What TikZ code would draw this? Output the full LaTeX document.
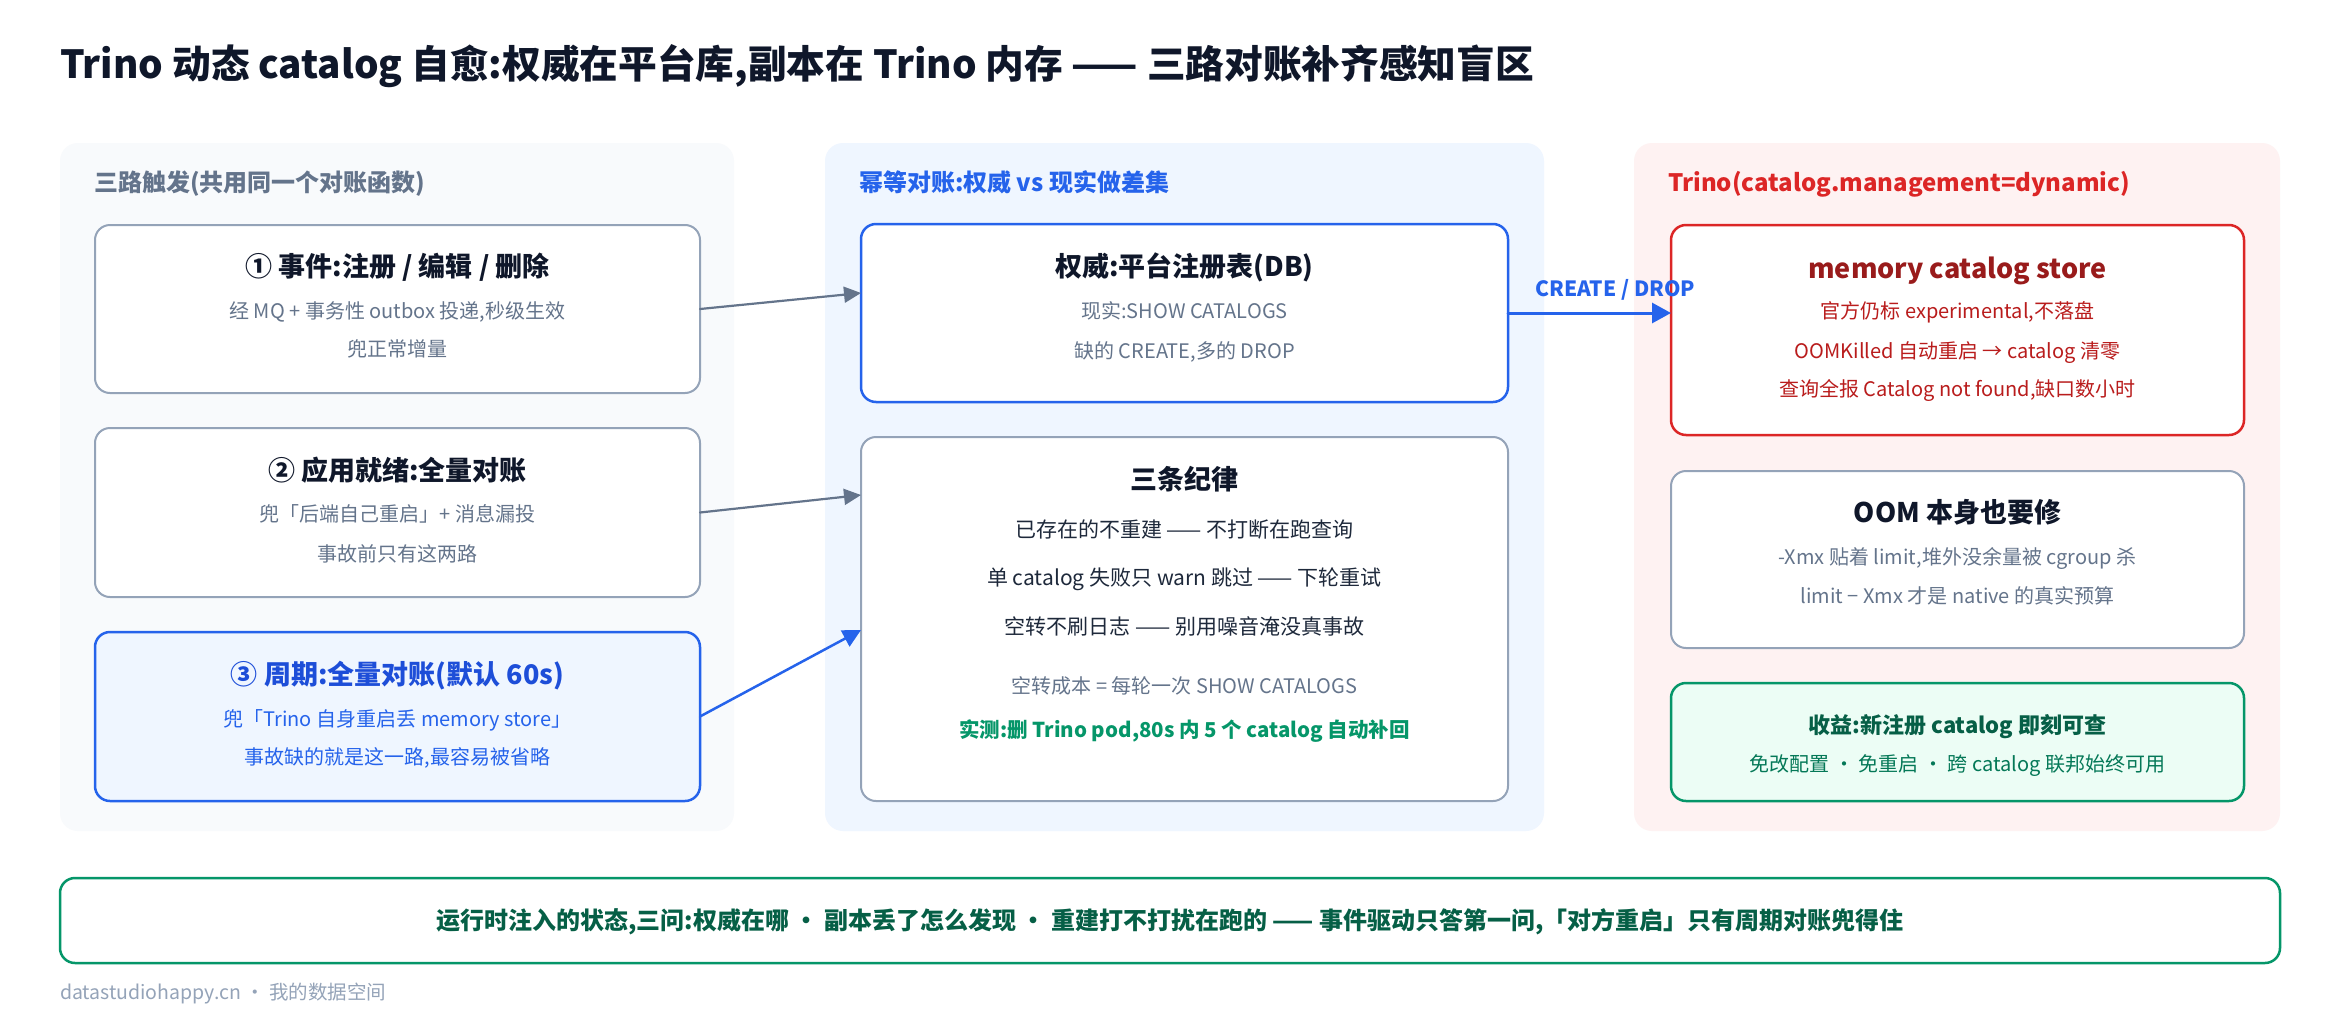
\documentclass[tikz,border=0pt]{standalone}
\usepackage{fontspec}
\setmainfont{Noto Sans CJK SC}
\usetikzlibrary{arrows.meta,positioning}

\definecolor{ink}{HTML}{0F172A}
\definecolor{slate}{HTML}{1E293B}
\definecolor{muted}{HTML}{64748B}
\definecolor{edge}{HTML}{94A3B8}
\definecolor{trigbg}{HTML}{F8FAFC}
\definecolor{reconbg}{HTML}{EFF6FF}
\definecolor{trinobg}{HTML}{FEF2F2}
\definecolor{accent}{HTML}{2563EB}
\definecolor{accentdk}{HTML}{1D4ED8}
\definecolor{alarm}{HTML}{DC2626}
\definecolor{alarmmd}{HTML}{B91C1C}
\definecolor{alarmdk}{HTML}{991B1B}
\definecolor{good}{HTML}{059669}
\definecolor{goodmd}{HTML}{047857}
\definecolor{gooddk}{HTML}{065F46}
\definecolor{goodbg}{HTML}{ECFDF5}

\begin{document}
\begin{tikzpicture}[
  x=1pt, y=-1pt,
  line cap=round, line join=round,
  every node/.style={inner sep=0pt, outer sep=0pt},
  panel/.style={rounded corners=18pt},
  box/.style={draw=edge, fill=white, line width=2pt, rounded corners=15pt},
  strong/.style={line width=2.5pt},
  headline/.style={font=\bfseries\fontsize{38.7}{38.7}\selectfont, text=ink, text height=34.8pt, text depth=5.4pt, anchor=west},
  ptitle/.style={font=\bfseries\fontsize{24}{24}\selectfont, text height=21.6pt, text depth=3.4pt, anchor=west},
  hd/.style={font=\bfseries\fontsize{27}{27}\selectfont, text=ink, text height=24.3pt, text depth=3.8pt},
  sub/.style={font=\fontsize{20}{20}\selectfont, text=muted, text height=18pt, text depth=2.8pt},
  rule/.style={font=\fontsize{21}{21}\selectfont, text=slate, text height=18.9pt, text depth=2.9pt},
  minor/.style={font=\bfseries\fontsize{22}{22}\selectfont, text height=19.8pt, text depth=3.1pt},
  lbl/.style={font=\bfseries\fontsize{21}{21}\selectfont, text=accent, text height=18.9pt, text depth=2.9pt},
  flow/.style={draw=muted, line width=2.2pt, -{Triangle[length=17pt, width=16pt]}},
  push/.style={draw=accent, line width=2.5pt, -{Triangle[length=18pt, width=18pt]}},
]
\useasboundingbox (0,0) rectangle (2340,1020);
\fill[white] (0,0) rectangle (2340,1020);

\node[headline] (title) at (60,64) {Trino 动态 catalog 自愈:权威在平台库,副本在 Trino 内存 —— 三路对账补齐感知盲区};

% three panels
\fill[panel, trigbg] (60,143) rectangle (734,831);
\fill[panel, reconbg] (825,143) rectangle (1544,831);
\fill[panel, trinobg] (1634,143) rectangle (2280,831);
\node[ptitle, text=muted] (trig) at (94,182) {三路触发(共用同一个对账函数)};
\node[ptitle, text=accent] (recon) at (859,182) {幂等对账:权威 vs 现实做差集};
\node[ptitle, text=alarm] (trino) at (1668,182) {Trino(catalog.management=dynamic)};

% triggers
\node[box, minimum width=605pt, minimum height=168pt] (event) at (397.5,309) {};
\node[hd] (event-t) at (397.5,266) {① 事件:注册 / 编辑 / 删除};
\node[sub] (event-a) at (397.5,311) {经 MQ + 事务性 outbox 投递,秒级生效};
\node[sub] (event-b) at (397.5,349) {兜正常增量};

\node[box, minimum width=605pt, minimum height=169pt] (ready) at (397.5,512.5) {};
\node[hd] (ready-t) at (397.5,470) {② 应用就绪:全量对账};
\node[sub] (ready-a) at (397.5,514) {兜「后端自己重启」+ 消息漏投};
\node[sub] (ready-b) at (397.5,554) {事故前只有这两路};

\node[box, strong, draw=accent, fill=reconbg, minimum width=605pt, minimum height=169pt] (tick) at (397.5,716.5) {};
\node[hd, text=accentdk] (tick-t) at (397.5,674) {③ 周期:全量对账(默认 60s)};
\node[sub, text=accent] (tick-a) at (397.5,719) {兜「Trino 自身重启丢 memory store」};
\node[sub, text=accent] (tick-b) at (397.5,757) {事故缺的就是这一路,最容易被省略};

% reconcile
\node[box, strong, draw=accent, minimum width=647pt, minimum height=178pt] (auth) at (1184.5,313) {};
\node[hd] (auth-t) at (1184.5,266) {权威:平台注册表(DB)};
\node[sub] (auth-a) at (1184.5,311) {现实:SHOW CATALOGS};
\node[sub] (auth-b) at (1184.5,351) {缺的 CREATE,多的 DROP};

\node[box, minimum width=647pt, minimum height=364pt] (rules) at (1184.5,619) {};
\node[hd] (rules-t) at (1184.5,479) {三条纪律};
\node[rule] (rules-a) at (1184.5,529) {已存在的不重建 —— 不打断在跑查询};
\node[rule] (rules-b) at (1184.5,577) {单 catalog 失败只 warn 跳过 —— 下轮重试};
\node[rule] (rules-c) at (1184.5,626) {空转不刷日志 —— 别用噪音淹没真事故};
\node[sub] (rules-d) at (1184.5,686) {空转成本 = 每轮一次 SHOW CATALOGS};
\node[sub, font=\bfseries\fontsize{20.5}{20.5}\selectfont, text=good] (rules-e) at (1184.5,730) {实测:删 Trino pod,80s 内 5 个 catalog 自动补回};

% trino side
\node[box, strong, draw=alarm, minimum width=573pt, minimum height=210pt] (store) at (1957.5,330) {};
\node[hd, text=alarmdk] (store-t) at (1957.5,268) {memory catalog store};
\node[sub, text=alarmmd] (store-a) at (1957.5,311) {官方仍标 experimental,不落盘};
\node[sub, text=alarmmd] (store-b) at (1957.5,351) {OOMKilled 自动重启 → catalog 清零};
\node[sub, text=alarmmd] (store-c) at (1957.5,389) {查询全报 Catalog not found,缺口数小时};

\node[box, minimum width=573pt, minimum height=177pt] (oom) at (1957.5,559.5) {};
\node[hd] (oom-t) at (1957.5,512) {OOM 本身也要修};
\node[sub] (oom-a) at (1957.5,557) {-Xmx 贴着 limit,堆外没余量被 cgroup 杀};
\node[sub] (oom-b) at (1957.5,596) {limit − Xmx 才是 native 的真实预算};

\node[box, strong, draw=good, fill=goodbg, minimum width=573pt, minimum height=118pt] (gain) at (1957.5,742) {};
\node[minor, text=gooddk] (gain-t) at (1957.5,725) {收益:新注册 catalog 即刻可查};
\node[sub, text=goodmd] (gain-a) at (1957.5,764) {免改配置 · 免重启 · 跨 catalog 联邦始终可用};

% connectors
\draw[flow] (event.east) -- ([yshift=20pt]auth.west);
\draw[flow] (ready.east) -- ([yshift=124pt]rules.west);
\draw[push] (tick.east) -- ([yshift=-11pt]rules.west);
\draw[push, line width=3pt, -{Triangle[length=19pt, width=20pt]}] (auth.east) -- (auth.east -| store.west)
  node[lbl, pos=0.66, above=14pt] (cmd) {CREATE / DROP};

% takeaway
\node[box, strong, draw=good, minimum width=2220pt, minimum height=85pt] (lesson) at (1170,920.5) {};
\node[minor, font=\bfseries\fontsize{24}{24}\selectfont, text=gooddk] (lesson-t) at (1170,921) {运行时注入的状态,三问:权威在哪 · 副本丢了怎么发现 · 重建打不打扰在跑的 —— 事件驱动只答第一问,「对方重启」只有周期对账兜得住};
\node[sub, anchor=west, font=\fontsize{19.5}{19.5}\selectfont, text=edge] (site) at (60,992) {datastudiohappy.cn · 我的数据空间};
\end{tikzpicture}
\end{document}
